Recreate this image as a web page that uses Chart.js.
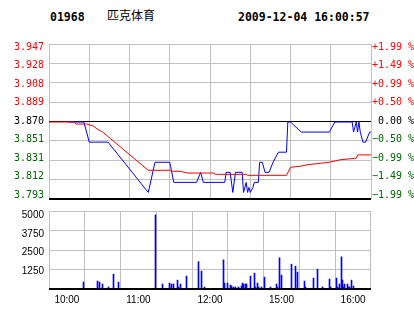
<!DOCTYPE html>
<html>
<head>
<meta charset="utf-8">
<script src="https://cdn.jsdelivr.net/npm/chart.js@4"></script>
<style>
  body { margin: 0; background: #fff; width: 414px; height: 314px; position: relative; overflow: hidden; }
  .hd { position: absolute; top: 10px; line-height: 12px; font: bold 11.5px "DejaVu Sans Mono", monospace; color: #000; white-space: pre; }
  .hd.name { font: 12px "Noto Sans CJK SC", sans-serif; top: 8px; line-height: 14px; }
  canvas { position: absolute; left: 0; }
</style>
</head>
<body>
<div class="hd" style="left:50px">01968</div>
<div class="hd name" style="left:107px">匹克体育</div>
<div class="hd" style="left:238px">2009-12-04 16:00:57</div>
<canvas id="price" width="414" height="210" style="top:0"></canvas>
<canvas id="vol" width="414" height="114" style="top:200px"></canvas>
<script>
const prevClose = 3.870;
const priceLabels = ['3.793', '3.812', '3.831', '3.851', '3.870', '3.889', '3.908', '3.928', '3.947'];
const pctLabels = ['\u22121.99 %', '\u22121.49 %', '\u22120.99 %', '\u22120.50 %', ' 0.00 %', '+0.50 %', '+0.99 %', '+1.49 %', '+1.99 %'];
const timeLabels = ['10:00', '11:00', '12:00', '15:00', '16:00'];
const volLabels = ['', '1250', '2500', '3750', '5000'];

// last price (blue)
const priceTimes = ['10:14', '10:26', '10:28', '10:30', '10:44', '11:14', '11:19', '11:30', '11:33', '11:50',
  '11:53', '11:55', '12:11', '12:12', '12:15', '12:17', '12:19', '12:24', '12:25', '12:27',
  '12:28', '12:29', '14:30', '14:32', '14:33', '14:36', '14:37', '14:39', '14:41', '14:44',
  '14:47', '14:51', '14:57', '14:58', '15:00', '15:08', '15:29', '15:33', '15:46', '15:47',
  '15:49', '15:50', '15:51', '15:52', '15:54', '15:56', '15:59', '16:00'];
const prices = [3.87, 3.87, 3.86, 3.85, 3.85, 3.80, 3.83, 3.83, 3.81, 3.81,
  3.82, 3.81, 3.81, 3.82, 3.82, 3.80, 3.82, 3.82, 3.80, 3.81,
  3.80, 3.805, 3.80, 3.805, 3.81, 3.81, 3.83, 3.83, 3.82, 3.82,
  3.83, 3.84, 3.84, 3.87, 3.87, 3.86, 3.86, 3.87, 3.87, 3.86,
  3.87, 3.86, 3.87, 3.86, 3.85, 3.85, 3.86, 3.86];

// average price (red)
const avgTimes = ['10:00', '10:19', '10:20', '10:28', '10:33', '10:36', '10:40', '11:14', '11:31', '11:32',
  '11:38', '11:43', '12:03', '12:04', '12:27', '12:28', '14:57', '15:00', '15:07', '15:13',
  '15:29', '15:37', '15:49', '15:50', '16:00'];
const avgPrices = [3.870, 3.870, 3.868, 3.868, 3.866, 3.863, 3.860, 3.822, 3.822, 3.821,
  3.821, 3.8193, 3.8193, 3.818, 3.818, 3.817, 3.817, 3.825, 3.826, 3.8276,
  3.830, 3.8325, 3.834, 3.8373, 3.8373];

// volume
const volTimes = ['10:14', '10:26', '10:27', '10:30', '10:35', '10:39', '10:43', '11:14', '11:20', '11:26',
  '11:28', '11:29', '11:33', '11:34', '11:35', '11:40', '11:50', '11:53', '11:55', '12:11',
  '12:12', '12:15', '12:17', '12:18', '12:20', '12:21', '12:24', '12:26', '12:27', '12:28',
  '14:30', '14:31', '14:34', '14:37', '14:38', '14:40', '14:41', '14:43', '14:46', '14:51',
  '14:56', '14:57', '14:58', '15:00', '15:08', '15:12', '15:13', '15:19', '15:20', '15:27',
  '15:30', '15:34', '15:40', '15:41', '15:46', '15:47', '15:49', '15:50', '15:51', '15:52',
  '15:53', '15:55', '15:56', '15:57', '15:59', '16:00'];
const volumes = [445, 508, 445, 318, 127, 950, 445, 4750, 318, 380,
  318, 318, 570, 127, 318, 825, 1750, 1140, 127, 1870,
  380, 380, 250, 190, 127, 127, 127, 190, 380, 318,
  318, 318, 825, 1016, 127, 380, 127, 127, 760, 127,
  318, 127, 2000, 890, 1590, 1460, 1080, 508, 127, 700,
  1270, 127, 635, 127, 700, 127, 318, 2060, 570, 127,
  318, 318, 127, 127, 570, 190];

const priceMin = prevClose * (1 - 0.0199);
const priceMax = prevClose * (1 + 0.0199);

// minutes from the open, lunch break removed
function toMin(t) {
  const [h, m] = t.split(':').map(Number);
  let v = (h - 10) * 60 + m;
  if (h >= 14) v -= 120;
  return v;
}

const monoFont = { family: 'DejaVu Sans Mono', size: 10 };
const sansFont = { family: 'Liberation Sans', size: 10 };

function xScale(showLabels) {
  return {
    type: 'linear', min: 0, max: 240,
    afterFit: s => { s.height = showLabels ? 25 : 0; },
    grid: { color: '#c0c0c0', lineWidth: 1, drawTicks: false },
    border: { display: false },
    ticks: {
      display: showLabels, stepSize: 30, padding: 5, color: '#000', font: sansFont,
      maxRotation: 0, autoSkip: false,
      callback: v => (v % 60 === 0 ? timeLabels[v / 60] : '')
    }
  };
}

function evenTicks(n, lo, hi) {
  return s => { s.ticks = Array.from({ length: n }, (_, i) => ({ value: lo + i * (hi - lo) / (n - 1) })); };
}

// label-only axis: labels are squeezed a bit inside the plot, like the original
function labelAxis(pos, width, lo, hi, labels, color, padding, font, first) {
  return {
    type: 'linear', position: pos, min: lo, max: hi,
    afterBuildTicks: s => { s.ticks = labels.map((_, i) => ({ value: i })).slice(first); },
    afterFit: s => { s.width = width; },
    grid: { display: false, drawTicks: false },
    border: { display: false },
    ticks: { padding, font, color, autoSkip: false, callback: (v) => labels[v] }
  };
}

const labelColor = c => {
  const i = c.tick.value;
  return i > 4 ? '#ff0000' : i === 4 ? '#000000' : '#006400';
};

const crispLines = {
  id: 'crispLines',
  beforeDatasetsDraw: ch => { ch.ctx.save(); ch.ctx.translate(0, 0.5); },
  afterDatasetsDraw: ch => { ch.ctx.restore(); }
};

// snap the 1px volume bars onto whole pixels
const crispBars = {
  id: 'crispBars',
  afterDatasetsUpdate: ch => {
    ch.getDatasetMeta(0).data.forEach(el => { el.x = Math.floor(el.x) + 0.5; });
  }
};

new Chart(document.getElementById('price'), {
  type: 'line',
  data: {
    datasets: [
      {
        data: avgTimes.map((t, i) => ({ x: toMin(t), y: avgPrices[i] })),
        borderColor: '#ff0000', borderWidth: 1, pointRadius: 0, tension: 0
      },
      {
        data: priceTimes.map((t, i) => ({ x: toMin(t), y: prices[i] })),
        borderColor: '#0000ff', borderWidth: 1, pointRadius: 0, tension: 0
      }
    ]
  },
  plugins: [crispLines],
  options: {
    responsive: false, animation: false, devicePixelRatio: 1,
    layout: { padding: { top: 44, bottom: 6, left: 0, right: 0 } },
    plugins: { legend: { display: false }, tooltip: { enabled: false } },
    scales: {
      x: xScale(false),
      y: {
        type: 'linear', position: 'left', min: priceMin, max: priceMax,
        afterBuildTicks: evenTicks(9, priceMin, priceMax),
        afterFit: s => { s.width = 0; },
        grid: {
          drawTicks: false,
          color: c => (c.index === 0 || c.index === 4 ? '#000' : '#c0c0c0'),
          lineWidth: c => (c.index === 0 ? 2 : 1)
        },
        border: { display: false },
        ticks: { display: false }
      },
      yl: labelAxis('left', 49, -0.209, 8.157, priceLabels, labelColor, 5, monoFont, 0),
      yr: labelAxis('right', 43, -0.209, 8.157, pctLabels, labelColor, 1, monoFont, 0)
    }
  }
});

new Chart(document.getElementById('vol'), {
  type: 'bar',
  data: {
    datasets: [{
      data: volTimes.map((t, i) => ({ x: toMin(t), y: volumes[i] })),
      backgroundColor: '#0000ff', barThickness: 1
    }]
  },
  plugins: [crispBars],
  options: {
    responsive: false, animation: false, devicePixelRatio: 1,
    layout: { padding: { top: 9, bottom: 0, left: 0, right: 0 } },
    plugins: { legend: { display: false }, tooltip: { enabled: false } },
    scales: {
      x: xScale(true),
      y: {
        type: 'linear', position: 'left', min: 0, max: 5000,
        afterBuildTicks: evenTicks(5, 0, 5000),
        afterFit: s => { s.width = 0; },
        grid: {
          drawTicks: false,
          color: c => (c.index === 0 ? '#000' : '#c0c0c0'),
          lineWidth: c => (c.index === 0 ? 2 : 1)
        },
        border: { display: false },
        ticks: { display: false }
      },
      yl: labelAxis('left', 49, 0.069, 4.207, volLabels, '#000', 5, sansFont, 1),
      yr: {
        type: 'linear', position: 'right', min: 0, max: 5000,
        afterFit: s => { s.width = 43; },
        grid: { display: false, drawTicks: false },
        border: { display: false },
        ticks: { display: false }
      }
    }
  }
});
</script>
</body>
</html>
